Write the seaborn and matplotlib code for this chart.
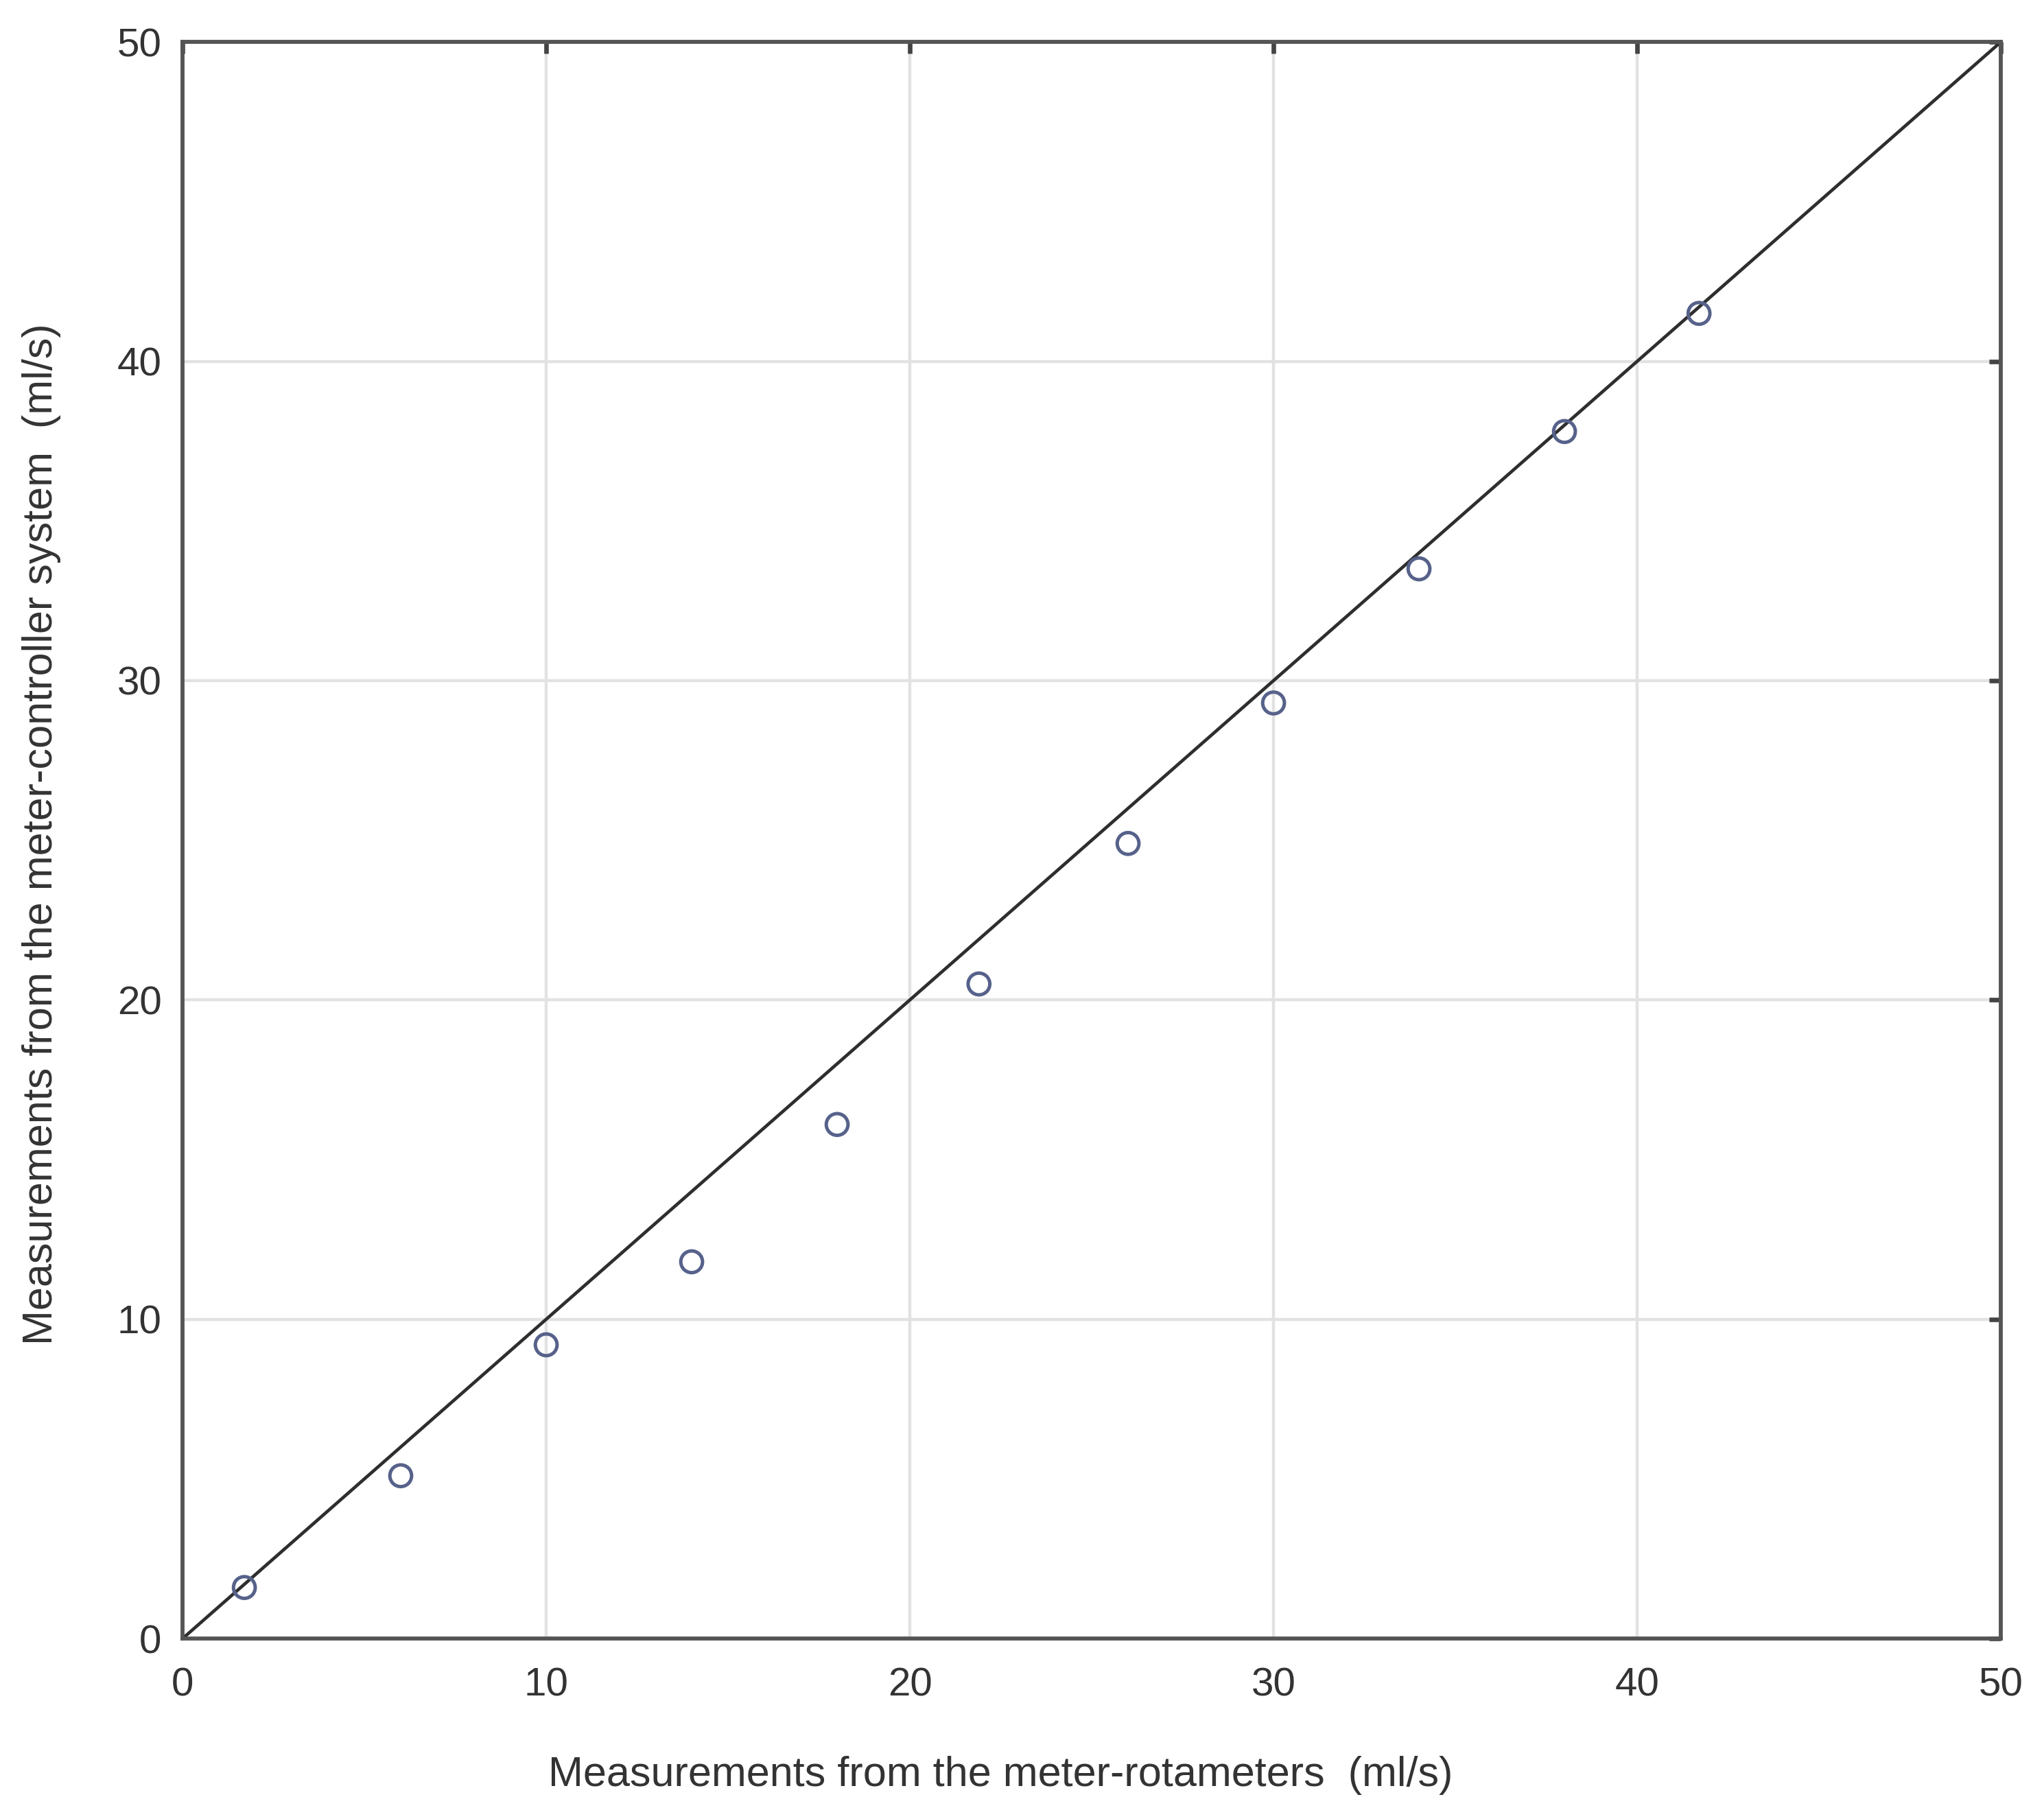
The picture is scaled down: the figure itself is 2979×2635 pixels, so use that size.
import matplotlib
matplotlib.use("Agg")
import matplotlib.pyplot as plt
import seaborn as sns
import pandas as pd

# values
rotameter = [1.7, 6.0, 10.0, 14.0, 18.0, 21.9, 26.0, 30.0, 34.0, 38.0, 41.7]
controller = [1.6, 5.1, 9.2, 11.8, 16.1, 20.5, 24.9, 29.3, 33.5, 37.8, 41.5]
ideal_x = [0, 50]
ideal_y = [0, 50]
ticks = [0, 10, 20, 30, 40, 50]

df = pd.DataFrame({"rot": rotameter, "ctrl": controller})
ideal = pd.DataFrame({"x": ideal_x, "y": ideal_y})

sns.set_theme(style="whitegrid")
plt.rcParams["font.family"] = ["Liberation Sans", "DejaVu Sans"]

fig = plt.figure(figsize=(14.895, 13.175), dpi=200)
ax = fig.add_axes([0.0893, 0.0937, 0.8896, 0.8831])

# 1:1 reference line and the measured points
sns.lineplot(data=ideal, x="x", y="y", ax=ax, color="#2e2e2e", linewidth=1.7, zorder=2)
sns.scatterplot(data=df, x="rot", y="ctrl", ax=ax, marker="o", s=130,
                facecolor="none", edgecolor="#56628a", linewidth=1.8, zorder=3)

ax.set_xlim(0, 50)
ax.set_ylim(0, 50)
ax.set_xticks(ticks)
ax.set_yticks(ticks)
ax.grid(True, color="#e2e2e2", linewidth=1.6)
for s in ax.spines.values():
    s.set_color("#555555")
    s.set_linewidth(2.1)
ax.tick_params(direction="in", length=6, width=2.4, color="#444444",
               top=True, right=True, labelsize=21, labelcolor="#333333")
ax.tick_params(axis="x", pad=15)
ax.tick_params(axis="y", pad=11)

ax.set_xlabel("Measurements from the meter-rotameters  (ml/s)", fontsize=22,
              color="#333333", va="center")
ax.set_ylabel("Measurements from the meter-controller system  (ml/s)", fontsize=22,
              color="#333333", va="center")
ax.xaxis.set_label_coords(0.45, -0.0857)
ax.yaxis.set_label_coords(-0.0774, 0.5037)

fig.savefig("out.png", dpi=200)
